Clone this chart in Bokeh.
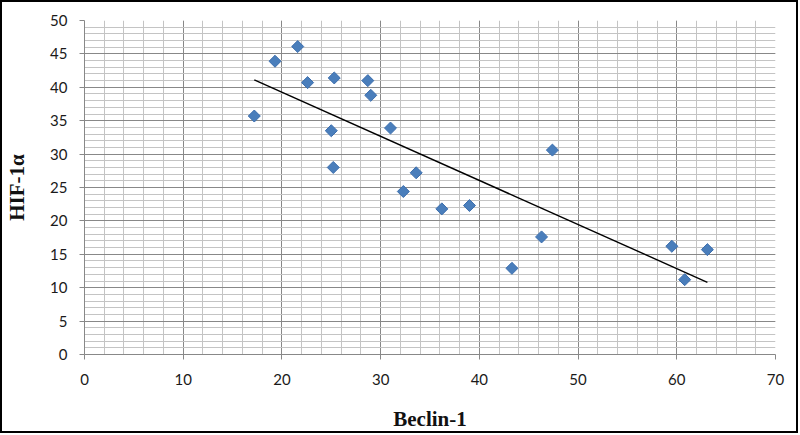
import numpy as np
from bokeh.plotting import figure
from bokeh.models import SingleIntervalTicker, ColumnDataSource
from bokeh.embed import file_html
from bokeh.resources import INLINE

# Data
beclin = [17.2, 19.3, 21.6, 22.6, 25.3, 25.0, 25.2, 28.7, 29.0, 31.0,
          32.3, 33.6, 36.2, 39.0, 43.3, 46.3, 47.4, 59.5, 60.8, 63.1]
hif = [35.7, 43.9, 46.1, 40.7, 41.4, 33.5, 28.0, 41.0, 38.8, 33.9,
       24.4, 27.2, 21.8, 22.3, 12.9, 17.6, 30.6, 16.2, 11.2, 15.7]
x_label = "Beclin-1"
y_label = "HIF-1α"

# Linear trend line (least squares fit of the data)
slope, intercept = np.polyfit(beclin, hif, 1)
trend_x = [min(beclin), max(beclin)]
trend_y = [slope * v + intercept for v in trend_x]

p = figure(width=798, height=433, x_range=(0, 70), y_range=(0, 50),
           output_backend="svg", toolbar_location=None,
           min_border_left=81, min_border_right=25,
           min_border_top=18, min_border_bottom=81)
p.styles = {"border": "2px solid black"}
p.outline_line_color = None
p.background_fill_color = "white"
p.border_fill_color = "white"

xt = SingleIntervalTicker(interval=10, num_minor_ticks=5)
yt = SingleIntervalTicker(interval=5, num_minor_ticks=5)
p.xaxis.ticker = xt
p.yaxis.ticker = yt
p.xgrid.ticker = xt
p.ygrid.ticker = yt

for g in (p.xgrid, p.ygrid):
    g.grid_line_color = "#888888"
    g.grid_line_width = 1
    g.minor_grid_line_color = "#c4c4c4"
    g.minor_grid_line_width = 1

for ax in (p.xaxis, p.yaxis):
    ax.axis_line_color = "#888888"
    ax.major_tick_line_color = "#888888"
    ax.major_tick_out = 5
    ax.major_tick_in = 0
    ax.minor_tick_line_color = None
    ax.major_label_text_font = "Lato"
    ax.major_label_text_font_size = "15px"
    ax.major_label_text_color = "#1a1a1a"
    ax.axis_label_text_font = "Liberation Serif"
    ax.axis_label_text_font_style = "bold"
    ax.axis_label_text_font_size = "21px"
    ax.axis_label_text_color = "#111111"

p.xaxis.axis_label = x_label
p.yaxis.axis_label = y_label
p.xaxis.major_label_standoff = 14
p.yaxis.major_label_standoff = 12
p.xaxis.axis_label_standoff = 19
p.yaxis.axis_label_standoff = 18

p.line(trend_x, trend_y, line_color="black", line_width=1.4)

src = ColumnDataSource(dict(x=beclin, y=hif))
p.scatter("x", "y", source=src, marker="square", angle=np.pi / 4, size=8.5,
          fill_color="#4a7ebb", line_color="#3d6fae", line_width=1)

open("out.html", "w").write(file_html(p, INLINE))
